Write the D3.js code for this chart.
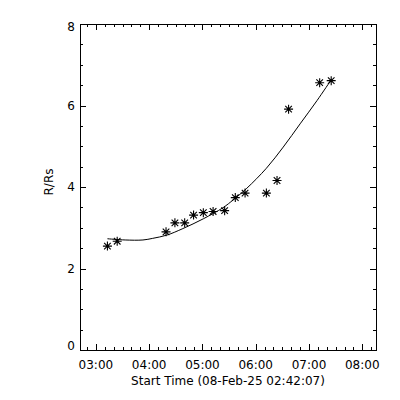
<!DOCTYPE html>
<html>
<head>
<meta charset="utf-8">
<script src="https://cdn.jsdelivr.net/npm/d3@7"></script>
<style>
  body { margin: 0; background: #fff; }
  svg text { font-family: "DejaVu Sans", sans-serif; font-size: 12px; fill: #000; }
</style>
</head>
<body>
<div id="chart"></div>
<script>
// observed height-time points (UT, 08-Feb-25)
const obsTimes = ["03:13", "03:24", "04:19", "04:29", "04:40", "04:50", "05:01", "05:12",
    "05:25", "05:37", "05:48", "06:12", "06:24", "06:37", "07:12", "07:25"]
const obsHeights = [2.55, 2.67, 2.90, 3.12, 3.12, 3.31, 3.37, 3.40,
    3.42, 3.74, 3.85, 3.85, 4.16, 5.91, 6.56, 6.61]

// fitted curve
const fitTimes = ["03:13", "03:33", "03:53", "04:04", "04:20", "04:38", "05:01", "05:23",
    "05:35", "05:50", "06:12", "06:31", "06:50", "07:09", "07:25"]
const fitHeights = [2.73, 2.70, 2.70, 2.74, 2.82, 2.98, 3.22, 3.49,
    3.69, 3.97, 4.46, 4.98, 5.55, 6.12, 6.63]

const startTime = "2025-02-08 02:42:07"
const endTime = "2025-02-08 08:15:27"
const yTicks = [0, 2, 4, 6, 8]

const parseSec = d3.utcParse("%Y-%m-%d %H:%M:%S")
const parseMin = d3.utcParse("%Y-%m-%d %H:%M")
const day = "2025-02-08 "

let margin = {top: 24, right: 24, bottom: 50, left: 80},
    width = 400 - margin.left - margin.right,
    height = 400 - margin.top - margin.bottom;

let xScale = d3.scaleUtc()
    .domain([parseSec(startTime), parseSec(endTime)])
    .range([0, width])
let yScale = d3.scaleLinear().domain([0, 8]).range([height, 0])

let svg = d3.select("#chart")
    .append("svg")
    .attr("width", 400)
    .attr("height", 400)
    .append("g")
    .attr("transform", "translate(" + margin.left + "," + margin.top + ")");

let hourTicks = d3.utcHour.every(1).range(xScale.domain()[0], xScale.domain()[1])
let minorX = d3.utcMinute.every(10).range(xScale.domain()[0], xScale.domain()[1])
let minorY = d3.range(0, 8.01, 0.5)

// minor ticks, all four sides
function minorTicks(g, axis, vals) {
    g.call(axis.tickValues(vals).tickSize(3).tickFormat(""))
    g.select(".domain").remove()
}
svg.append("g").attr("transform", "translate(0," + height + ")")
    .call(minorTicks, d3.axisTop(xScale), minorX)
svg.append("g")
    .call(minorTicks, d3.axisBottom(xScale), minorX)
svg.append("g")
    .call(minorTicks, d3.axisRight(yScale), minorY)
svg.append("g").attr("transform", "translate(" + width + ",0)")
    .call(minorTicks, d3.axisLeft(yScale), minorY)

// major ticks
svg.append("g").attr("transform", "translate(0," + height + ")")
    .call(d3.axisTop(xScale).tickValues(hourTicks).tickSize(6).tickFormat(""))
    .select(".domain").remove()
svg.append("g")
    .call(d3.axisBottom(xScale).tickValues(hourTicks).tickSize(6).tickFormat(""))
    .select(".domain").remove()
svg.append("g")
    .call(d3.axisRight(yScale).tickValues(yTicks).tickSize(6).tickFormat(""))
    .select(".domain").remove()
svg.append("g").attr("transform", "translate(" + width + ",0)")
    .call(d3.axisLeft(yScale).tickValues(yTicks).tickSize(6).tickFormat(""))
    .select(".domain").remove()

svg.selectAll(".tick line").attr("stroke", "#000").attr("shape-rendering", "crispEdges")

svg.append("rect")
    .attr("x", 0).attr("y", 0)
    .attr("width", width).attr("height", height)
    .attr("fill", "none")
    .attr("stroke", "#000")
    .attr("shape-rendering", "crispEdges")

// tick labels
let fmt = d3.utcFormat("%H:%M")
svg.selectAll(".xlab")
    .data(hourTicks)
    .enter().append("text")
    .attr("x", d => xScale(d))
    .attr("y", height + 18.5)
    .attr("text-anchor", "middle")
    .text(d => fmt(d))

svg.selectAll(".ylab")
    .data(yTicks)
    .enter().append("text")
    .attr("x", -5)
    .attr("y", d => yScale(d))
    .attr("dy", d => d === 0 ? "0em" : d === 8 ? "0.6em" : "0.35em")
    .attr("text-anchor", "end")
    .text(d => d)

svg.append("text")
    .attr("x", width / 2)
    .attr("y", height + 35)
    .attr("text-anchor", "middle")
    .text("Start Time (08-Feb-25 02:42:07)")

svg.append("text")
    .attr("transform", "translate(-27," + (height / 2 - 5) + ") rotate(-90)")
    .attr("text-anchor", "middle")
    .text("R/Rs")

// fit curve
let fitData = fitTimes.map((t, i) => ({t: parseMin(day + t), v: fitHeights[i]}))
svg.append("path")
    .datum(fitData)
    .attr("fill", "none")
    .attr("stroke", "#000")
    .attr("stroke-width", 1)
    .attr("d", d3.line()
        .curve(d3.curveCatmullRom)
        .x(d => xScale(d.t))
        .y(d => yScale(d.v)))

// asterisks
let obsData = obsTimes.map((t, i) => ({t: parseMin(day + t), v: obsHeights[i]}))
let star = "M-4.5,0H4.5M0,-4.5V4.5M-3.3,-3.3L3.3,3.3M-3.3,3.3L3.3,-3.3"
svg.selectAll(".pt")
    .data(obsData)
    .enter().append("path")
    .attr("class", "pt")
    .attr("transform", d => "translate(" + xScale(d.t) + "," + yScale(d.v) + ")")
    .attr("d", star)
    .attr("stroke", "#000")
    .attr("stroke-width", 1.1)
    .attr("fill", "none")
</script>
</body>
</html>
